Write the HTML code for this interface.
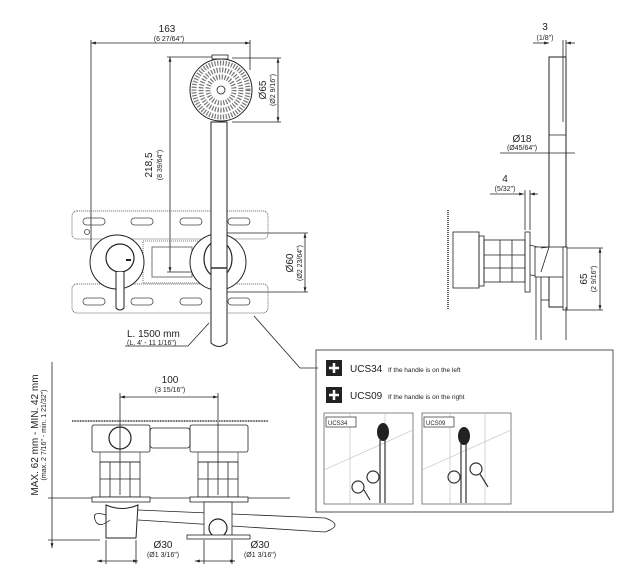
<!DOCTYPE html>
<html><head><meta charset="utf-8"><style>
html,body{margin:0;padding:0;background:#fff}
svg{display:block}
text{font-family:"Liberation Sans",sans-serif;fill:#222}
</style></head><body>
<svg width="619" height="587" viewBox="0 0 619 587" xmlns="http://www.w3.org/2000/svg">
<defs>
<marker id="a" viewBox="0 0 10 10" refX="10" refY="5" markerWidth="6" markerHeight="6" orient="auto-start-reverse"><path d="M0,2 L10,5 L0,8z" fill="#222"/></marker>
</defs>
<g stroke="#222" fill="none" stroke-width="0.8">
<line x1="91" y1="43" x2="250" y2="43" marker-start="url(#a)" marker-end="url(#a)"/>
<line x1="91" y1="40" x2="91" y2="250"/>
<line x1="250" y1="40" x2="250" y2="70"/>
<line x1="170" y1="57" x2="170" y2="272" marker-start="url(#a)" marker-end="url(#a)"/>
<line x1="167" y1="57" x2="215" y2="57"/>
<line x1="167" y1="272" x2="212" y2="272"/>
<line x1="278" y1="58" x2="278" y2="122" marker-start="url(#a)" marker-end="url(#a)"/>
<line x1="232" y1="58" x2="281" y2="58"/>
<line x1="232" y1="122" x2="281" y2="122"/>
<rect x="72" y="211" width="196" height="28" rx="5" stroke-dasharray="1.2 0.8" stroke="#555"/>
<rect x="72" y="284" width="196" height="29" rx="5" stroke-dasharray="1.2 0.8" stroke="#555"/>
<g stroke="#444">
<rect x="83" y="218" width="22" height="7" rx="3.5"/><rect x="131" y="218" width="22" height="7" rx="3.5"/><rect x="180" y="218" width="22" height="7" rx="3.5"/><rect x="228" y="218" width="22" height="7" rx="3.5"/>
<rect x="83" y="298" width="22" height="7" rx="3.5"/><rect x="131" y="298" width="22" height="7" rx="3.5"/><rect x="180" y="298" width="22" height="7" rx="3.5"/><rect x="228" y="298" width="22" height="7" rx="3.5"/>
<circle cx="87" cy="232" r="2.5"/>
</g>
<rect x="143" y="241" width="60" height="42" stroke-dasharray="1 1" stroke="#555"/>
<rect x="152" y="247" width="40" height="30" stroke="#555"/>
<line x1="305" y1="233" x2="305" y2="292" marker-start="url(#a)" marker-end="url(#a)"/>
<line x1="222" y1="233" x2="308" y2="233"/>
<line x1="222" y1="292" x2="308" y2="292"/>
<circle cx="117" cy="262" r="27" fill="#fff" stroke-width="1"/>
<circle cx="120" cy="258" r="14" stroke-width="1.2"/>
<line x1="126" y1="260" x2="131" y2="260" stroke-width="2"/>
<path d="M116,272 L116,308 Q120,312 124,308 L124,272" fill="#fff" stroke-width="1"/>
<circle cx="218" cy="262" r="28" fill="#fff" stroke-width="1"/>
<ellipse cx="218" cy="259" rx="14" ry="18" stroke-width="1.2"/>
<rect x="212" y="55" width="16" height="4" fill="#fff"/>
<circle cx="221" cy="90" r="31" fill="#fff" stroke-width="1"/>
<circle cx="221" cy="90" r="27" stroke="#777" stroke-width="5" stroke-dasharray="1.2 1.6"/>
<circle cx="221" cy="90" r="20" stroke="#777" stroke-width="5" stroke-dasharray="1.2 1.6"/>
<circle cx="221" cy="90" r="13" stroke="#777" stroke-width="5" stroke-dasharray="1.2 1.6"/>
<circle cx="221" cy="90" r="4" fill="#fff"/>
<path d="M211,122 L211,268 L227,268 L227,122 Z" fill="#fff" stroke-width="1"/>
<path d="M211,268 L211,343 Q219,350 227,343 L227,268" fill="#fff" stroke-width="1"/>
<line x1="211" y1="268" x2="227" y2="268" stroke-width="1.4"/>
<line x1="125" y1="346" x2="188" y2="346"/>
<line x1="188" y1="346" x2="209" y2="323"/>
<polyline points="254,316 300,368 318,368"/>
<rect x="316" y="350" width="297" height="162" stroke="#555" stroke-width="1"/>
<rect x="324" y="413" width="89" height="91" stroke="#666"/>
<rect x="422" y="413" width="89" height="91" stroke="#666"/>
<g stroke="#bbb" stroke-width="0.6">
<line x1="350" y1="413" x2="350" y2="504"/><line x1="385" y1="413" x2="385" y2="504"/>
<line x1="324" y1="470" x2="413" y2="430"/>
<line x1="450" y1="413" x2="450" y2="504"/><line x1="485" y1="413" x2="485" y2="504"/>
<line x1="422" y1="470" x2="511" y2="430"/>
</g>
<g stroke="#333" stroke-width="1.2">
<path d="M380,440 L380,503 M385,440 L385,503"/>
<circle cx="373" cy="477" r="6"/><circle cx="358" cy="487" r="6"/><line x1="364" y1="490" x2="370" y2="500"/>
<path d="M461,440 L461,503 M466,440 L466,503"/>
<circle cx="454" cy="477" r="6"/><circle cx="476" cy="469" r="6"/><line x1="480" y1="474" x2="488" y2="487"/>
</g>
<ellipse cx="383" cy="432" rx="6" ry="9" fill="#222" stroke="none"/>
<ellipse cx="464" cy="436" rx="6" ry="9" fill="#222" stroke="none"/>
<rect x="326" y="417" width="30" height="10" stroke="#444" fill="#fff"/>
<rect x="424" y="417" width="30" height="10" stroke="#444" fill="#fff"/>

<line x1="533" y1="43" x2="549" y2="43" marker-end="url(#a)"/>
<line x1="566" y1="43" x2="575" y2="43" marker-start="url(#a)"/>
<line x1="563" y1="40" x2="563" y2="57"/><line x1="566" y1="40" x2="566" y2="57"/>
<rect x="549" y="57" width="17" height="250" fill="#fff" stroke-width="1"/>
<line x1="563" y1="57" x2="563" y2="122"/>
<line x1="549" y1="135" x2="566" y2="135"/>
<line x1="500" y1="153" x2="575" y2="153"/>
<line x1="490" y1="194" x2="524" y2="194" marker-end="url(#a)"/>
<line x1="530" y1="194" x2="538" y2="194" marker-start="url(#a)"/>
<line x1="525" y1="190" x2="525" y2="230"/><line x1="530" y1="190" x2="530" y2="230"/>
<rect x="525" y="232" width="5" height="60" fill="#fff"/>
<rect x="453" y="232" width="26" height="56" fill="#fff"/>
<rect x="479" y="236" width="5" height="50"/>
<rect x="484" y="240" width="41" height="42"/>
<line x1="500" y1="240" x2="500" y2="282"/><line x1="512" y1="240" x2="512" y2="282"/>
<line x1="484" y1="255" x2="525" y2="255"/><line x1="484" y1="268" x2="525" y2="268"/>
<line x1="448" y1="210" x2="448" y2="310" stroke-dasharray="1 1" stroke-width="1.5"/>
<path d="M530,245 L541,248 L541,276 L530,275"/>
<rect x="535" y="247" width="31" height="30" fill="#fff"/>
<path d="M541,248 L549,247 L541,272"/>
<rect x="563" y="247" width="4" height="63" fill="#fff"/>
<line x1="536" y1="277" x2="536" y2="340"/><line x1="541" y1="277" x2="541" y2="340"/>
<line x1="541" y1="300" x2="549" y2="300"/>
<line x1="566" y1="340" x2="566" y2="307"/>
<line x1="600" y1="248" x2="600" y2="310" marker-start="url(#a)" marker-end="url(#a)"/>
<line x1="567" y1="248" x2="603" y2="248"/><line x1="567" y1="310" x2="603" y2="310"/>

<line x1="52" y1="362" x2="52" y2="548" marker-end="url(#a)"/>
<line x1="48" y1="498" x2="290" y2="498"/>
<line x1="48" y1="540" x2="100" y2="540"/>
<line x1="120" y1="397" x2="218" y2="397" marker-start="url(#a)" marker-end="url(#a)"/>
<line x1="120" y1="393" x2="120" y2="495"/><line x1="218" y1="393" x2="218" y2="495"/>
<line x1="72" y1="421" x2="268" y2="421" stroke-width="2" stroke-dasharray="1 0.6" stroke="#666"/>
<rect x="92" y="425" width="58" height="27" rx="2" fill="none"/>
<circle cx="120" cy="438" r="11" stroke-width="1.2"/>
<rect x="150" y="428" width="40" height="20" rx="3"/>
<rect x="190" y="425" width="58" height="27" rx="2"/>
<rect x="100" y="452" width="40" height="10" stroke="#555"/>
<rect x="198" y="452" width="40" height="10" stroke="#555"/>
<rect x="100" y="462" width="40" height="35"/>
<line x1="110" y1="462" x2="110" y2="497"/><line x1="130" y1="462" x2="130" y2="497"/><line x1="100" y1="479" x2="140" y2="479"/>
<rect x="198" y="462" width="40" height="35"/>
<line x1="208" y1="462" x2="208" y2="497"/><line x1="228" y1="462" x2="228" y2="497"/><line x1="198" y1="479" x2="238" y2="479"/>
<rect x="92" y="497" width="58" height="5" fill="#fff"/>
<rect x="190" y="497" width="58" height="5" fill="#fff"/>
<path d="M106,505 Q122,512 138,505 L136,538 L106,538 Z" fill="#fff" stroke-width="1"/>
<path d="M106,515 Q90,510 96,522 Q100,528 110,520"/>
<line x1="138" y1="510" x2="325" y2="518"/>
<line x1="138" y1="520" x2="325" y2="532"/>
<path d="M325,518 Q345,525 325,532"/>
<rect x="204" y="502" width="28" height="34" fill="#fff"/>
<circle cx="218" cy="528" r="9" fill="#fff" stroke-width="1.2"/>
<rect x="187" y="535" width="63" height="4" fill="#fff"/>
<line x1="97" y1="561" x2="138" y2="561" marker-start="url(#a)" marker-end="url(#a)"/>
<line x1="106" y1="540" x2="106" y2="564"/><line x1="136" y1="540" x2="136" y2="564"/>
<line x1="195" y1="561" x2="235" y2="561" marker-start="url(#a)" marker-end="url(#a)"/>
<line x1="204" y1="540" x2="204" y2="564"/><line x1="232" y1="540" x2="232" y2="564"/>
</g>
<rect x="326" y="360" width="16" height="16" fill="#222"/>
<rect x="326" y="387" width="16" height="16" fill="#222"/>
<path d="M334,363 v10 M329,368 h10 M334,390 v10 M329,395 h10" stroke="#fff" stroke-width="2.5"/>

<text x="167" y="32" font-size="10" text-anchor="middle">163</text>
<text x="169" y="41" font-size="7" text-anchor="middle">(6 27/64")</text>
<text transform="translate(152,165) rotate(-90)" font-size="10" text-anchor="middle">218,5</text>
<text transform="translate(162,165) rotate(-90)" font-size="7" text-anchor="middle">(8 39/64")</text>
<text transform="translate(266,90) rotate(-90)" font-size="10" text-anchor="middle">Ø65</text>
<text transform="translate(275,90) rotate(-90)" font-size="7" text-anchor="middle">(Ø2 9/16")</text>
<text transform="translate(293,263) rotate(-90)" font-size="10" text-anchor="middle">Ø60</text>
<text transform="translate(302,263) rotate(-90)" font-size="7" text-anchor="middle">(Ø2 23/64")</text>
<text x="127" y="337" font-size="10">L. 1500 mm</text>
<text x="127" y="345" font-size="7">(L. 4' - 11 1/16")</text>
<text x="350" y="372" font-size="10">UCS34</text>
<text x="388" y="372" font-size="6.5">If the handle is on the left</text>
<text x="350" y="399" font-size="10">UCS09</text>
<text x="388" y="399" font-size="6.5">If the handle is on the right</text>
<text x="328" y="425" font-size="6">UCS34</text>
<text x="426" y="425" font-size="6">UCS09</text>
<text x="545" y="30" font-size="10" text-anchor="middle">3</text>
<text x="545" y="40" font-size="7" text-anchor="middle">(1/8")</text>
<text x="522" y="142" font-size="10" text-anchor="middle">Ø18</text>
<text x="522" y="150" font-size="7" text-anchor="middle">(Ø45/64")</text>
<text x="505" y="182" font-size="10" text-anchor="middle">4</text>
<text x="505" y="191" font-size="7" text-anchor="middle">(5/32")</text>
<text transform="translate(587,279) rotate(-90)" font-size="10" text-anchor="middle">65</text>
<text transform="translate(596,279) rotate(-90)" font-size="7" text-anchor="middle">(2 9/16")</text>
<text transform="translate(38,435) rotate(-90)" font-size="10" text-anchor="middle">MAX. 62 mm - MIN. 42 mm</text>
<text transform="translate(46,435) rotate(-90)" font-size="7" text-anchor="middle">(max. 2 7/16" - min. 1 21/32")</text>
<text x="170" y="383" font-size="10" text-anchor="middle">100</text>
<text x="170" y="392" font-size="7" text-anchor="middle">(3 15/16")</text>
<text x="163" y="548" font-size="10" text-anchor="middle">Ø30</text>
<text x="163" y="557" font-size="7" text-anchor="middle">(Ø1 3/16")</text>
<text x="260" y="548" font-size="10" text-anchor="middle">Ø30</text>
<text x="260" y="557" font-size="7" text-anchor="middle">(Ø1 3/16")</text>
</svg>
</body></html>
